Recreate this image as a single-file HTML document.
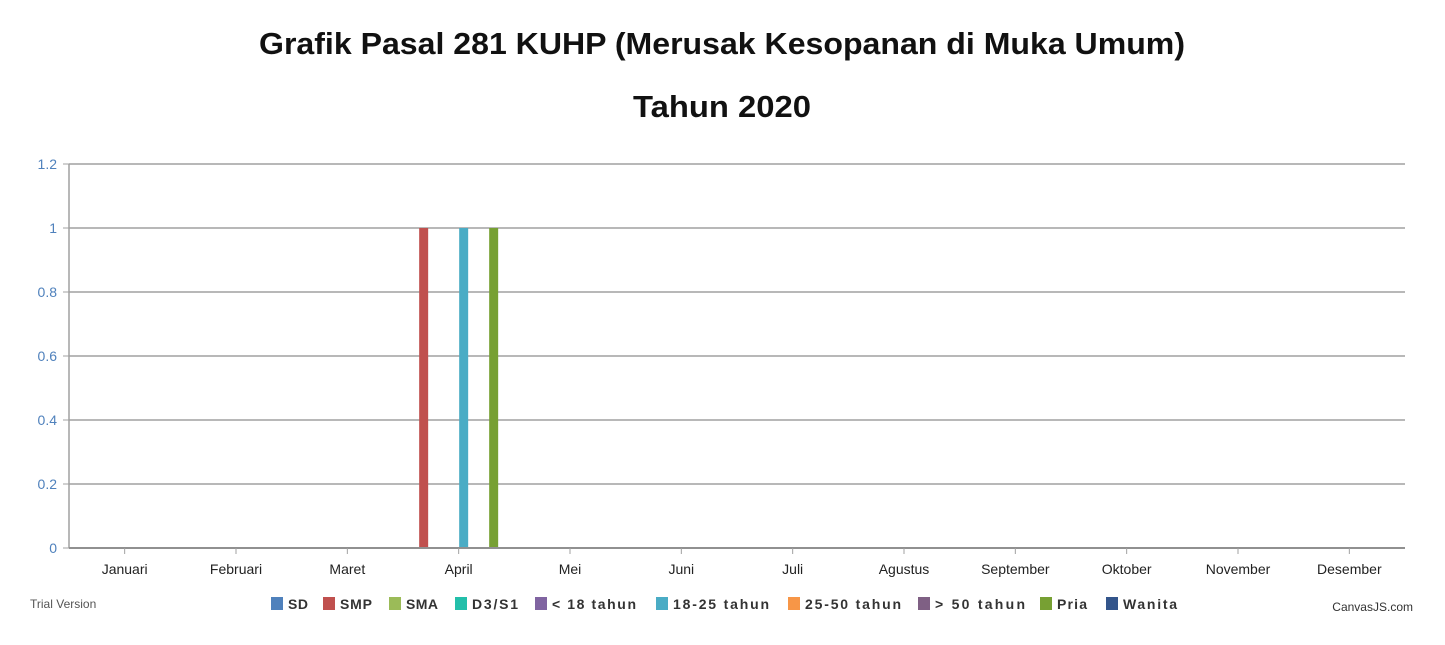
<!DOCTYPE html>
<html><head><meta charset="utf-8"><style>
body{margin:0;background:#fff;width:1445px;height:640px;overflow:hidden;font-family:"Liberation Sans",sans-serif}
</style></head><body>
<svg id="chart" width="1445" height="640" xmlns="http://www.w3.org/2000/svg">
<text x="722" y="54" text-anchor="middle" font-size="31" font-weight="bold" fill="#111" textLength="926" lengthAdjust="spacingAndGlyphs">Grafik Pasal 281 KUHP (Merusak Kesopanan di Muka Umum)</text>
<text x="722" y="117" text-anchor="middle" font-size="31" font-weight="bold" fill="#111" textLength="178" lengthAdjust="spacingAndGlyphs">Tahun 2020</text>
<g id="grid"></g><g id="bars"></g><g id="axes"></g><g id="legend"></g>
<text x="30" y="608" font-size="12" fill="#555">Trial Version</text>
<text x="1413" y="611" text-anchor="end" font-size="12" fill="#333">CanvasJS.com</text>
</svg>
<script>
const categories=["Januari","Februari","Maret","April","Mei","Juni","Juli","Agustus","September","Oktober","November","Desember"];
const seriesNames=["SD","SMP","SMA","D3/S1","< 18 tahun","18-25 tahun","25-50 tahun","> 50 tahun","Pria","Wanita"];
const seriesColors=["#4f81bc","#c0504e","#9bbb58","#23bfaa","#8064a1","#4aacc5","#f79647","#7f6084","#77a033","#33558b"];
const sdVals=[0,0,0,0,0,0,0,0,0,0,0,0];
const smpVals=[0,0,0,1,0,0,0,0,0,0,0,0];
const smaVals=[0,0,0,0,0,0,0,0,0,0,0,0];
const d3Vals=[0,0,0,0,0,0,0,0,0,0,0,0];
const u18Vals=[0,0,0,0,0,0,0,0,0,0,0,0];
const a1825Vals=[0,0,0,1,0,0,0,0,0,0,0,0];
const a2550Vals=[0,0,0,0,0,0,0,0,0,0,0,0];
const o50Vals=[0,0,0,0,0,0,0,0,0,0,0,0];
const priaVals=[0,0,0,1,0,0,0,0,0,0,0,0];
const wanitaVals=[0,0,0,0,0,0,0,0,0,0,0,0];
const seriesValues=[sdVals,smpVals,smaVals,d3Vals,u18Vals,a1825Vals,a2550Vals,o50Vals,priaVals,wanitaVals];
const yTicks=[0,0.2,0.4,0.6,0.8,1,1.2];
const yTickLabels=["0","0.2","0.4","0.6","0.8","1","1.2"];

const NS="http://www.w3.org/2000/svg";
const X0=69,X1=1405,Y0=548,Y1=164,YMAX=1.2;
const band=(X1-X0)/categories.length;
const xc=i=>X0+band*(i+0.5);
const y=v=>Y0-(v/YMAX)*(Y0-Y1);
function mk(tag,attrs,parent){const e=document.createElementNS(NS,tag);for(const k in attrs)e.setAttribute(k,attrs[k]);parent.appendChild(e);return e;}
const grid=document.getElementById('grid'),bars=document.getElementById('bars'),axes=document.getElementById('axes'),legend=document.getElementById('legend');
yTicks.forEach((t,i)=>{
  if(t>0){const l=mk('line',{x1:X0,x2:X1,y1:y(t),y2:y(t),stroke:'#a0a0a0','stroke-width':1.5},grid);
  
  }
  const tk=mk('line',{x1:X0-6,x2:X0,y1:y(t),y2:y(t),stroke:'#a0a0a0'},axes);
  
  
  const tx=mk('text',{x:X0-12,y:y(t)+5,'text-anchor':'end','font-size':14,fill:'#4f81bc'},axes);
  tx.textContent=yTickLabels[i];
  
  
});
const slot=10,bw=9;
seriesValues.forEach((vals,s)=>{
  vals.forEach((v,i)=>{
    if(v<=0)return;
    const bx=xc(i)+(s-(seriesValues.length-1)/2)*slot-bw/2;
    const r=mk('rect',{x:bx,y:y(v),width:bw,height:Y0-y(v),fill:seriesColors[s]},bars);
    
    
  });
});
const ya=mk('line',{x1:X0,x2:X0,y1:Y1,y2:Y0,stroke:'#a0a0a0','stroke-width':1.5},axes);


const xa=mk('line',{x1:X0,x2:X1,y1:Y0,y2:Y0,stroke:'#909090','stroke-width':2},axes);


categories.forEach((c,i)=>{
  const tk=mk('line',{x1:xc(i),x2:xc(i),y1:Y0,y2:Y0+6,stroke:'#a0a0a0'},axes);
  
  
  const t=mk('text',{x:xc(i),y:574,'text-anchor':'middle','font-size':14,fill:'#222'},axes);
  t.textContent=c;
  
  
});
const legendX=[271,323,389,455,535,656,788,918,1040,1106];
const legendW=[20,32,32,46,84,96,96,90,30,54];
seriesNames.forEach((n,s)=>{
  const lx=legendX[s];
  const g=mk('g',{},legend);
  
  
  mk('rect',{x:lx,y:597,width:12,height:13,fill:seriesColors[s]},g);
  const t=mk('text',{x:lx+17,y:609,'font-size':14,'font-weight':'bold',fill:'#333',textLength:legendW[s],lengthAdjust:'spacing'},g);
  t.textContent=n;
});
</script>
</body></html>
